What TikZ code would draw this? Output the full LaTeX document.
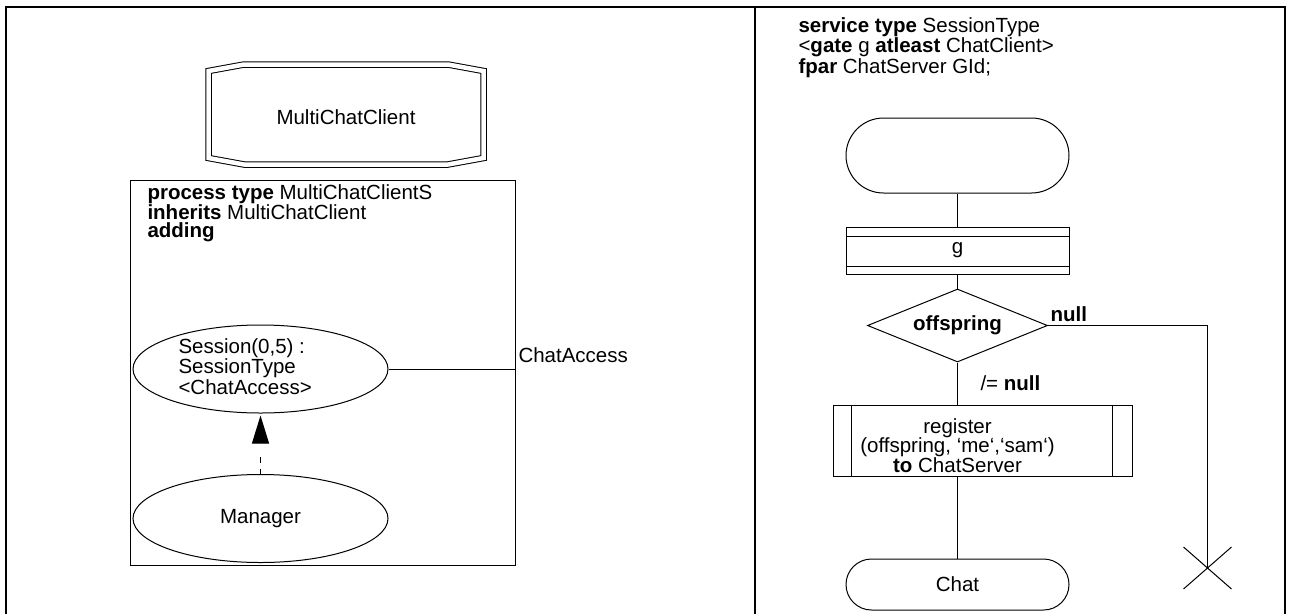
\documentclass[tikz,border=0pt]{standalone}
\usepackage{fontspec}
\setmainfont{Liberation Sans}
\usetikzlibrary{shapes.geometric,shapes.misc,arrows.meta}
\begin{document}
\begin{tikzpicture}[x=1pt,y=-1pt,line width=1pt,
  fnt/.style={font=\fontsize{20.5}{18}\selectfont},
  fnttight/.style={font=\fontsize{20.5}{17.5}\selectfont},
  fntreg/.style={font=\fontsize{20.5}{19.5}\selectfont},
  txt/.style={fnt,inner sep=0pt,align=left,anchor=base west},
  ctxt/.style={fnt,inner sep=0pt,align=center,anchor=base},
  frameline/.style={line width=1.5pt},
  box/.style={draw,rectangle,inner sep=0pt},
  ell/.style={draw,ellipse,inner sep=0pt,minimum width=255pt,minimum height=88pt,fnt},
  term/.style={draw,rounded rectangle,inner sep=0pt,minimum width=223pt,fnt},
  dec/.style={draw,diamond,inner sep=0pt,aspect=2.47,minimum width=180pt,minimum height=73pt,fnt}]
\useasboundingbox (0,0) rectangle (1291,614);
% frame
\draw[frameline] (6,614) -- (6,7) -- (1285,7) -- (1285,614);
\draw[frameline] (755,7) -- (755,614);

% ---------- left ----------
\draw[double,double distance=4.5pt,line width=1pt]
  (208.5,71) -- (244,64.5) -- (448,64.5) -- (483.5,71) -- (483.5,158)
  -- (448,164.5) -- (244,164.5) -- (208.5,158) -- cycle;
\node[ctxt] (mcc) at (346,124) {MultiChatClient};

\node[box,minimum width=385pt,minimum height=385pt] (proc) at (322.5,372.5) {};
% base anchor of a multi-line node = baseline of its last line
\node[txt,fnttight] (hdr) at (147,237) {\textbf{process type} MultiChatClientS\\\textbf{inherits} MultiChatClient\\\textbf{adding}};

\node[ell] (sess) at (260.5,369) {};
\node[txt] (sesstxt) at (178,394) {Session(0,5) :\\SessionType\\<ChatAccess>};
\node[ell] (mgr) at (260.5,518.5) {Manager};

\draw[dash pattern=on 5pt off 6pt on 6pt off 30pt,shorten >=2pt,
  -{Triangle[length=28pt,width=17pt]}] (mgr.north) -- (sess.south);

\draw (sess.east) -- (sess.east -| proc.east);
\node[txt] (chacc) at (518,362) {ChatAccess};

% ---------- right ----------
\node[txt] (svc) at (798,73) {\textbf{service type} SessionType\\<\textbf{gate} g \textbf{atleast} ChatClient>\\\textbf{fpar} ChatServer GId;};

\node[term,minimum height=75pt] (start) at (957.5,155.5) {};
\node[box,minimum width=223pt,minimum height=47pt,fnt] (g) at (957.5,250.5) {g};
\draw (g.north west) ++(0,10) -- ++(223,0);
\draw (g.south west) ++(0,-8) -- ++(223,0);
\node[dec] (dec) at (957.5,325.5) {\textbf{offspring}};
\node[txt] (nulllab) at (1050,321) {\textbf{null}};
\node[txt] (nnull) at (980,390) {/= \textbf{null}};

\node[box,minimum width=299pt,minimum height=71pt] (reg) at (982.5,440.5) {};
\draw (reg.north west) ++(19,0) -- ++(0,71);
\draw (reg.north east) ++(-20,0) -- ++(0,71);
\node[ctxt,fntreg] (regtxt) at (957.5,472) {register\\(offspring, ‘me‘,‘sam‘)\\\textbf{to} ChatServer};

\node[term,minimum height=51pt] (chat) at (957.5,584.5) {Chat};

\coordinate (stopc) at (1207.5,568);
\draw (start.south) -- (g.north);
\draw (g.south) -- (dec.north);
\draw (dec.south) -- (dec.south |- reg.north);
\draw (reg.south -| chat.north) -- (chat.north);
\draw (dec.east) -| (stopc);
\draw (stopc) ++(-24,-21) -- ++(48,42);
\draw (stopc) ++(24,-21) -- ++(-48,42);
\end{tikzpicture}
\end{document}
